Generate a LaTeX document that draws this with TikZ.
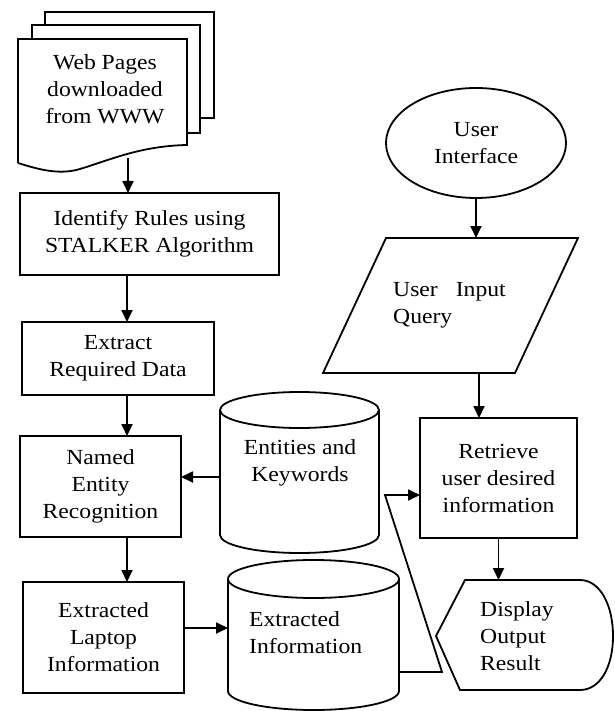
\documentclass[tikz,border=0pt]{standalone}
\usepackage{fontspec}
\setmainfont{Liberation Serif}[FakeStretch=1.1]
\usetikzlibrary{arrows.meta,shapes.geometric}

\begin{document}
\begin{tikzpicture}[x=1pt,y=-1pt,>={Triangle[length=12pt,width=11pt]},font=\fontsize{21.5}{27}\selectfont]
		\tikzstyle{flow}=[line width=1.8pt, draw=black]
		\tikzstyle{box}=[rectangle, flow, align=center, inner sep=0pt, outer sep=0pt]
		\tikzstyle{area}=[rectangle, draw=none, inner sep=0pt, outer sep=0pt]
		\tikzstyle{post}=[flow, ->]
		\tikzstyle{words}=[inner sep=0pt, align=left, anchor=west]

		\useasboundingbox (0,0) rectangle (614,711);

		% stack of pages
		\draw [flow, fill=white] (45,25) -- (45,12) -- (214,12) -- (214,118) -- (200,118);
		\draw [flow, fill=white] (32,39) -- (32,25) -- (200,25) -- (200,133) -- (187,133);
		\draw [flow, fill=white] (18,163) -- (18,39) -- (187,39) -- (187,145)
			.. controls (140,146) and (110,160) .. (80,169)
			.. controls (60,175) and (40,170) .. (18,163);
		\node [inner sep=0pt, align=center] (web) at (105,89) {Web Pages\\downloaded\\from WWW};
		\coordinate (webfoot) at (128,158);
		\coordinate (col) at (127,0);

		% left column
		\node [box, minimum width=259, minimum height=82] (rules) at (149.5,234) {Identify Rules using\\STALKER Algorithm};
		\node [box, minimum width=192, minimum height=73] (extract) at (118,358.5) {Extract\\Required Data};
		\node [box, minimum width=161, minimum height=101] (ner) at (100.5,486.5) {Named\\Entity\\Recognition};
		\node [box, minimum width=161, minimum height=111] (laptop) at (103.5,637.5) {Extracted\\Laptop\\Information};

		\draw [post] (webfoot) -- (webfoot |- rules.north);
		\draw [post] (rules.south -| col) -- (extract.north -| col);
		\draw [post] (extract.south -| col) -- (ner.north -| col);
		\draw [post] (ner.south -| col) -- (laptop.north -| col);

		% data stores
		\node [area, minimum width=159, minimum height=125] (keys) at (299.5,472.5) {};
		\draw [flow, fill=white] (keys.north west) -- (keys.south west)
			arc [start angle=180, end angle=360, x radius=79.5pt, y radius=18pt]
			-- (keys.north east)
			arc [start angle=0, end angle=180, x radius=79.5pt, y radius=18pt];
		\draw [flow] (keys.north west) arc [start angle=180, end angle=360, x radius=79.5pt, y radius=18pt];
		\node [inner sep=0pt, align=center] (keystext) at (300,463) {Entities and\\Keywords};

		\node [area, minimum width=171, minimum height=112] (xinfo) at (313.5,635) {};
		\draw [flow, fill=white] (xinfo.north west) -- (xinfo.south west)
			arc [start angle=180, end angle=360, x radius=85.5pt, y radius=19pt]
			-- (xinfo.north east)
			arc [start angle=0, end angle=180, x radius=85.5pt, y radius=19pt];
		\draw [flow] (xinfo.north west) arc [start angle=180, end angle=360, x radius=85.5pt, y radius=19pt];
		\node [words] (xinfotext) at (249,633) {Extracted\\Information};

		\draw [post] ([yshift=-4.5pt]keys.west) -- ([yshift=-4.5pt]keys.west -| ner.east);
		\draw [post] ([yshift=9.5pt]laptop.east) -- ([yshift=9.5pt]laptop.east -| xinfo.west);

		% right column
		\node [ellipse, flow, minimum width=180, minimum height=110, inner sep=0pt, align=center] (ui) at (476,143) {User\\Interface};

		\node [area, minimum width=192, minimum height=135] (query) at (450.5,305.5) {};
		\draw [flow] (386,238) -- (578,238) -- (515,373) -- (323,373) -- cycle;
		\node [words] (querytext) at (393,305) {User\hspace{18pt}Input\\Query};
		\coordinate (qfoot) at (479,373);

		\node [box, minimum width=157, minimum height=120] (retr) at (498.5,478) {Retrieve\\user desired\\information};

		\node [area, minimum width=177, minimum height=110] (disp) at (524.5,635) {};
		\draw [flow] (465,580) -- (580,580)
			.. controls (600,580) and (613,605) .. (613,636)
			.. controls (613,667) and (600,690) .. (580,690)
			-- (460,690) -- (436,636) -- cycle;
		\node [words] (disptext) at (480,636) {Display\\Output\\Result};

		\draw [post] (ui.south) -- (ui.south |- query.north);
		\draw [post] (qfoot) -- (qfoot |- retr.north);
		\draw [post] (retr.south) -- (retr.south |- disp.north);

		% feedback line into retrieval
		\coordinate (fb1) at (442,672);
		\coordinate (fb2) at (385,495);
		\draw [post] ([yshift=-37pt]xinfo.east) -- (fb1) -- (fb2) -- (fb2 -| retr.west);
	\end{tikzpicture}
\end{document}
